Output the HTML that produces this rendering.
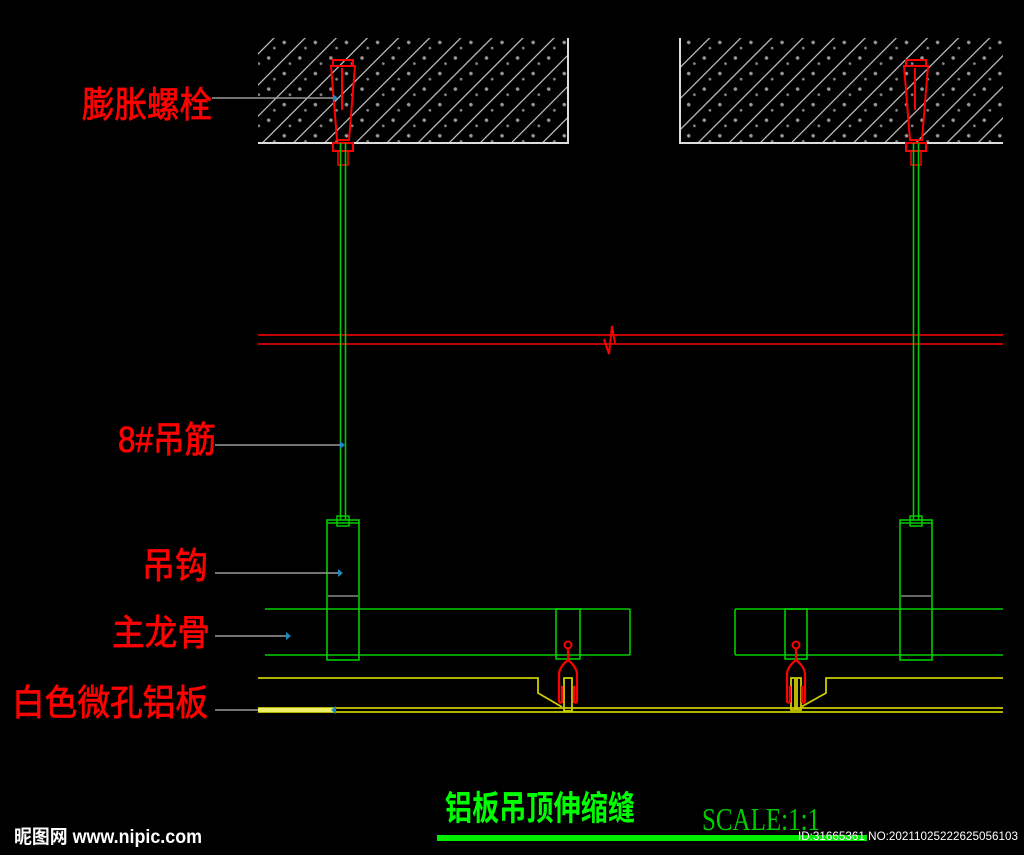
<!DOCTYPE html>
<html><head><meta charset="utf-8"><style>
html,body{margin:0;padding:0;background:#000;width:1024px;height:855px;overflow:hidden}
svg{display:block}
.cj{font-family:"Liberation Sans","Noto Sans CJK SC",sans-serif}
</style></head><body>
<svg width="1024" height="855" viewBox="0 0 1024 855" xmlns="http://www.w3.org/2000/svg">
<defs>
<pattern id="hatch" width="22" height="22" patternUnits="userSpaceOnUse" patternTransform="rotate(45)">
<line x1="0" y1="0" x2="0" y2="22" stroke="#c8c8c8" stroke-width="2.4"/>
<circle cx="11" cy="5" r="1.8" fill="#999"/><circle cx="8" cy="16" r="1.4" fill="#888"/>
</pattern>
<g id="bolt">
<rect x="-10" y="60" width="20" height="6" fill="none" stroke="#f00" stroke-width="2"/>
<polygon points="-12,66 12,66 6,140 -6,140" fill="none" stroke="#f00" stroke-width="2"/>
<line x1="-1" y1="68" x2="-1" y2="110" stroke="#f00" stroke-width="2"/>
<rect x="-10" y="143" width="20" height="8" fill="none" stroke="#f00" stroke-width="2"/>
<rect x="-5" y="151" width="10" height="14" fill="none" stroke="#f00" stroke-width="1.5"/>
<line x1="-2.5" y1="143" x2="-2.5" y2="520" stroke="#0c0" stroke-width="1.6"/>
<line x1="2.5" y1="143" x2="2.5" y2="520" stroke="#0c0" stroke-width="1.6"/>
<rect x="-6" y="516" width="12" height="10" fill="none" stroke="#0c0" stroke-width="1.5"/>
<rect x="-16" y="520" width="32" height="140" fill="none" stroke="#0c0" stroke-width="1.6"/>
<line x1="-16" y1="523" x2="16" y2="523" stroke="#0c0" stroke-width="1.5"/>
<line x1="-15" y1="596" x2="15" y2="596" stroke="#888" stroke-width="1.5"/>
</g>
<g id="clip">
<circle cx="0" cy="-23" r="3.5" fill="none" stroke="#f00" stroke-width="2"/>
<path d="M0,-20 V-8 M0,-8 Q-9,-1 -9,7 V32 Q-9,36 -6,34 V18 M0,-8 Q9,-1 9,7 V32 Q9,36 6,34 V18" fill="none" stroke="#f00" stroke-width="2.2"/>
</g>
</defs>
<rect x="258" y="38" width="310" height="105" fill="url(#hatch)"/>
<path d="M258,143 H568 V38" fill="none" stroke="#ddd" stroke-width="2"/>
<rect x="680" y="38" width="323" height="105" fill="url(#hatch)"/>
<path d="M680,38 V143 H1003" fill="none" stroke="#ddd" stroke-width="2"/>
<line x1="258" y1="335" x2="1003" y2="335" stroke="#d00" stroke-width="1.8"/>
<line x1="258" y1="344" x2="1003" y2="344" stroke="#d00" stroke-width="1.8"/>
<path d="M604,339 L609,354 L612,326 L615,343" fill="none" stroke="#f00" stroke-width="2"/>
<g fill="none" stroke="#0c0" stroke-width="1.6">
<line x1="265" y1="609" x2="630" y2="609"/><line x1="265" y1="655" x2="630" y2="655"/><line x1="630" y1="609" x2="630" y2="655"/>
<rect x="556" y="609" width="24" height="50"/>
<line x1="735" y1="609" x2="1003" y2="609"/><line x1="735" y1="655" x2="1003" y2="655"/><line x1="735" y1="609" x2="735" y2="655"/>
<rect x="785" y="609" width="22" height="50"/>
</g>
<use href="#bolt" x="343" y="0"/>
<use href="#bolt" x="916" y="0"/>
<g fill="none" stroke="#cc0" stroke-width="1.8">
<path d="M258,678 H538 V693 L562,707"/>
<path d="M1003,678 H826 V693 L801,707"/>
<rect x="564" y="678" width="8" height="33"/>
<rect x="791" y="678" width="4" height="32"/><rect x="797" y="678" width="4" height="32"/>
<line x1="258" y1="708" x2="1003" y2="708"/>
<line x1="258" y1="712" x2="1003" y2="712"/>
</g>
<line x1="258" y1="710" x2="335" y2="710" stroke="#ee6" stroke-width="4"/>
<use href="#clip" x="568" y="668"/>
<use href="#clip" x="796" y="668"/>
<g stroke="#999" stroke-width="1.5">
<line x1="212" y1="98" x2="333" y2="98"/>
<line x1="215" y1="445" x2="340" y2="445"/>
<line x1="215" y1="573" x2="338" y2="573"/>
<line x1="215" y1="636" x2="286" y2="636"/>
<line x1="215" y1="710" x2="258" y2="710"/>
</g>
<g fill="#1a8ac0">
<path d="M333,94 l5,4 -5,4z"/><path d="M340,441 l5,4 -5,4z"/><path d="M338,569 l5,4 -5,4z"/><path d="M286,632 l5,4 -5,4z"/><path d="M336,706 l-5,4 5,4z"/>
</g>
<g class="cj" fill="#f00" stroke="#f00" stroke-width="0.8" font-size="36">
<text x="82" y="117" textLength="130" lengthAdjust="spacingAndGlyphs">膨胀螺栓</text>
<text x="118" y="452" textLength="98" lengthAdjust="spacingAndGlyphs">8#吊筋</text>
<text x="142" y="578" textLength="66" lengthAdjust="spacingAndGlyphs">吊钩</text>
<text x="112" y="645" textLength="98" lengthAdjust="spacingAndGlyphs">主龙骨</text>
<text x="12" y="715" textLength="196" lengthAdjust="spacingAndGlyphs">白色微孔铝板</text>
</g>
<text class="cj" x="445" y="820" fill="#0f0" font-size="34" font-weight="bold" textLength="190" lengthAdjust="spacingAndGlyphs">铝板吊顶伸缩缝</text>
<rect x="437" y="835" width="430" height="6" fill="#0e0"/>
<text x="702" y="830" fill="#0c0" font-family="Liberation Serif,serif" font-size="32" textLength="118" lengthAdjust="spacingAndGlyphs">SCALE:1:1</text>
<text class="cj" x="14" y="843" fill="#fff" font-size="19" font-weight="bold" textLength="188" lengthAdjust="spacingAndGlyphs">昵图网 www.nipic.com</text>
<text x="798" y="840" fill="#fff" font-family="Liberation Sans,sans-serif" font-size="12" textLength="220" lengthAdjust="spacingAndGlyphs">ID:31665361 NO:20211025222625056103</text>
</svg>
</body></html>
